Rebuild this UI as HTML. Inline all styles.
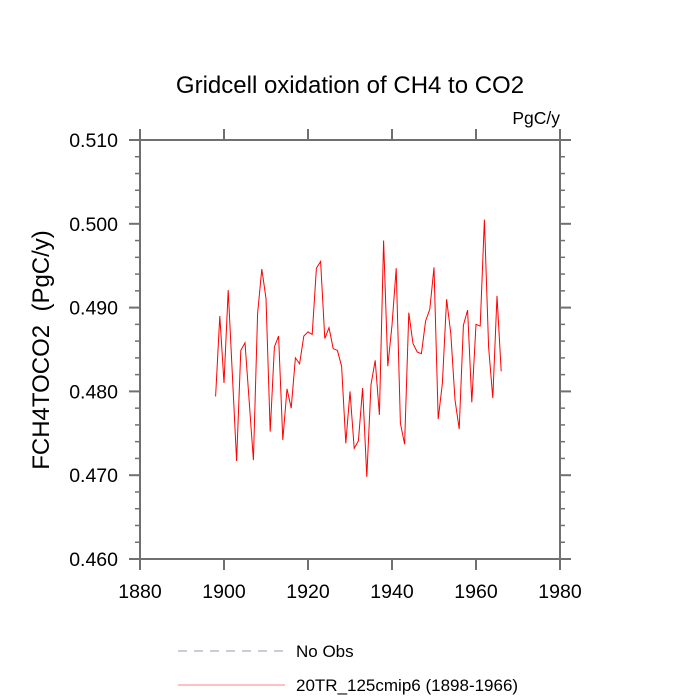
<!DOCTYPE html>
<html><head><meta charset="utf-8"><style>
html,body{margin:0;padding:0;background:#fff;}
svg{display:block;font-family:"Liberation Sans",Arial,sans-serif;}
</style></head><body>
<svg id="chart" width="700" height="700" viewBox="0 0 700 700">
<text x="350" y="93" text-anchor="middle" font-size="24">Gridcell oxidation of CH4 to CO2</text>
<text x="560" y="124" text-anchor="end" font-size="17.5">PgC/y</text>
<text transform="translate(49,350) rotate(-90)" text-anchor="middle" font-size="24">FCH4TOCO2&#160;&#160;(PgC/y)</text>
<g id="axes"></g>
<g id="series"></g>
<g>
<line x1="178" y1="651" x2="285" y2="651" stroke="#9a9ab0" stroke-width="1" stroke-dasharray="9,7"/>
<text x="296" y="657" font-size="17">No Obs</text>
<line x1="178" y1="685" x2="285" y2="685" stroke="#ff8080" stroke-width="1"/>
<text x="296" y="691" font-size="17">20TR_125cmip6 (1898-1966)</text>
</g>
</svg>
<script>
const years = [];
for (let y = 1898; y <= 1966; y++) years.push(y);
const values = [0.4794,0.4890,0.4810,0.4921,0.4819,0.4717,0.4849,0.4858,0.4788,0.4718,
0.4893,0.4946,0.4911,0.4752,0.4853,0.4866,0.4742,0.4803,0.4780,0.4840,
0.4833,0.4866,0.4871,0.4868,0.4947,0.4955,0.4863,0.4876,0.4851,0.4849,
0.4830,0.4738,0.4800,0.4732,0.4741,0.4804,0.4698,0.4808,0.4837,0.4772,
0.4980,0.4830,0.4879,0.4947,0.4762,0.4737,0.4894,0.4857,0.4847,0.4845,
0.4884,0.4898,0.4948,0.4767,0.4810,0.4910,0.4869,0.4790,0.4755,0.4879,
0.4897,0.4787,0.4880,0.4878,0.5005,0.4853,0.4792,0.4914,0.4824];
const xTicks = [1880,1900,1920,1940,1960,1980];
const yTicks = [0.460,0.470,0.480,0.490,0.500,0.510];
const yTickLabels = ["0.460","0.470","0.480","0.490","0.500","0.510"];

const X0=140,X1=560,Y0=559,Y1=140;
const xs = v => X0 + (v-1880)/(1980-1880)*(X1-X0);
const ys = v => Y0 - (v-0.460)/(0.510-0.460)*(Y0-Y1);
const NS="http://www.w3.org/2000/svg";
const axes=document.getElementById('axes');
function mk(tag,attrs,parent){const e=document.createElementNS(NS,tag);for(const k in attrs)e.setAttribute(k,attrs[k]);parent.appendChild(e);return e;}
const C="#707070";
const frame=mk('rect',{x:X0,y:Y1,width:X1-X0,height:Y0-Y1,fill:'none',stroke:C,'stroke-width':2},axes);


xTicks.forEach(t=>{
  const x=xs(t);
  const a=mk('line',{x1:x,y1:Y0,x2:x,y2:Y0+11,stroke:C,'stroke-width':2},axes);
  
  
  const b=mk('line',{x1:x,y1:Y1,x2:x,y2:Y1-11,stroke:C,'stroke-width':2},axes);
  
  
  const l=mk('text',{x:x,y:Y0+39,'text-anchor':'middle','font-size':19.5},axes);
  l.textContent=t;
  
  
});
yTicks.forEach((t,i)=>{
  const y=ys(t);
  const a=mk('line',{x1:X0-11,y1:y,x2:X0,y2:y,stroke:C,'stroke-width':2},axes);
  
  
  const b=mk('line',{x1:X1,y1:y,x2:X1+11,y2:y,stroke:C,'stroke-width':2},axes);
  
  
  const l=mk('text',{x:X0-22,y:y+7,'text-anchor':'end','font-size':19.5},axes);
  l.textContent=yTickLabels[i];
  
  
  if(i<yTicks.length-1){
    for(let k=1;k<5;k++){
      const yy=ys(t+0.002*k);
      const m=mk('line',{x1:X0-5,y1:yy,x2:X0,y2:yy,stroke:C,'stroke-width':1.5},axes);
      
      
      const m2=mk('line',{x1:X1,y1:yy,x2:X1+5,y2:yy,stroke:C,'stroke-width':1.5},axes);
      
      
    }
  }
});
const pts=years.map((yr,i)=>xs(yr).toFixed(2)+','+ys(values[i]).toFixed(2)).join(' ');
const line=mk('polyline',{points:pts,fill:'none',stroke:'#ff0000','stroke-width':1},document.getElementById('series'));


</script>
</body></html>
